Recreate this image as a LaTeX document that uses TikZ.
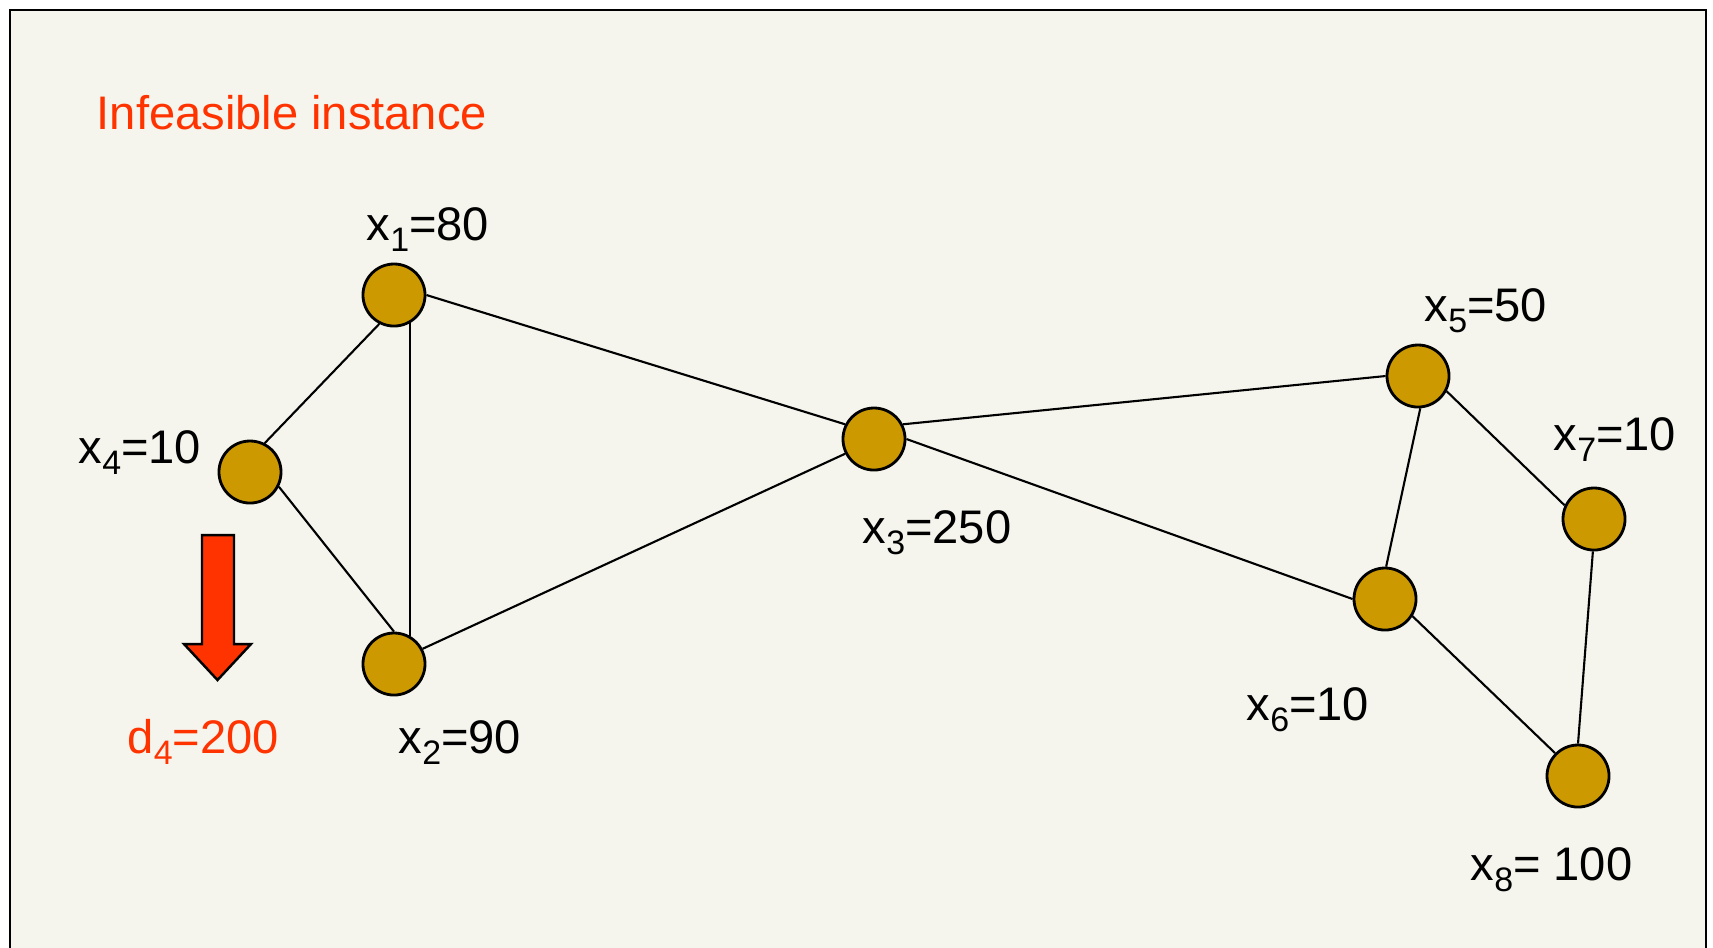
\documentclass[tikz,border=0pt]{standalone}
\usepackage{fontspec}
\setmainfont{Liberation Sans}
\usetikzlibrary{positioning}
\definecolor{paper}{HTML}{F5F5ED}
\definecolor{alert}{HTML}{FF3300}
\definecolor{gold}{HTML}{CC9900}
\newcommand{\idx}[1]{\raisebox{-0.25em}{\scalebox{0.72}{#1}}}

\begin{document}
\begin{tikzpicture}[x=0.01cm,y=-0.01cm,
    vertex/.style={circle,draw,fill=gold,line width=0.8pt,minimum size=0.62cm,inner sep=0pt},
    edge/.style={line width=0.6pt},
    val/.style={anchor=base west,inner sep=0pt,font=\fontsize{13.4}{16}\selectfont}]
      \useasboundingbox (0,0) rectangle (1713,947);
      \clip (0,0) rectangle (1713,947);
      \fill[white] (0,0) rectangle (1713,947);
      \draw[fill=paper,line width=0.7pt] (10,10) rectangle (1706,990);

      \node[val,text=alert] (title) at (96,129) {Infeasible instance};

      \node[vertex] (x1) at (394,295) {};
      \node[vertex] (x2) at (394,664) {};
      \node[vertex] (x3) at (874,439) {};
      \node[vertex] (x4) at (250,472) {};
      \node[vertex] (x5) at (1418,376) {};
      \node[vertex] (x6) at (1385,599) {};
      \node[vertex] (x7) at (1594,519) {};
      \node[vertex] (x8) at (1578,776) {};

      \node[val] (t1) at (366,240) {x\idx{1}=80};
      \node[val] (t2) at (398,753) {x\idx{2}=90};
      \node[val] (t3) at (862,543) {x\idx{3}=250};
      \node[val] (t4) at (78,463) {x\idx{4}=10};
      \node[val] (t5) at (1424,321) {x\idx{5}=50};
      \node[val] (t6) at (1246,720) {x\idx{6}=10};
      \node[val] (t7) at (1553,450) {x\idx{7}=10};
      \node[val] (t8) at (1470,880) {x\idx{8}= 100};
      \node[val,text=alert] (d4) at (127,753) {d\idx{4}=200};

      \draw[edge] (x1.243) -- (x4.63);
      \draw[edge] (x1.-61) -- (x2.61);
      \draw[edge] (x1.0) -- (x3.153);
      \draw[edge] (x4.-27) -- (x2.90);
      \draw[edge] (x2.28) -- (x3.207);
      \draw[edge] (x3.27) -- (x5.180);
      \draw[edge] (x3.0) -- (x6.180);
      \draw[edge] (x5.-86) -- (x6.88);
      \draw[edge] (x5.-28) -- (x7.155);
      \draw[edge] (x6.-32) -- (x8.135);
      \draw[edge] (x7.-92) -- (x8.90);

      % demand arrow
      \draw[fill=alert,line width=0.7pt] (202,535) -- (234,535) -- (234,644) -- (251,644)
            -- (217.5,680) -- (184,644) -- (202,644) -- cycle;
    \end{tikzpicture}
\end{document}
